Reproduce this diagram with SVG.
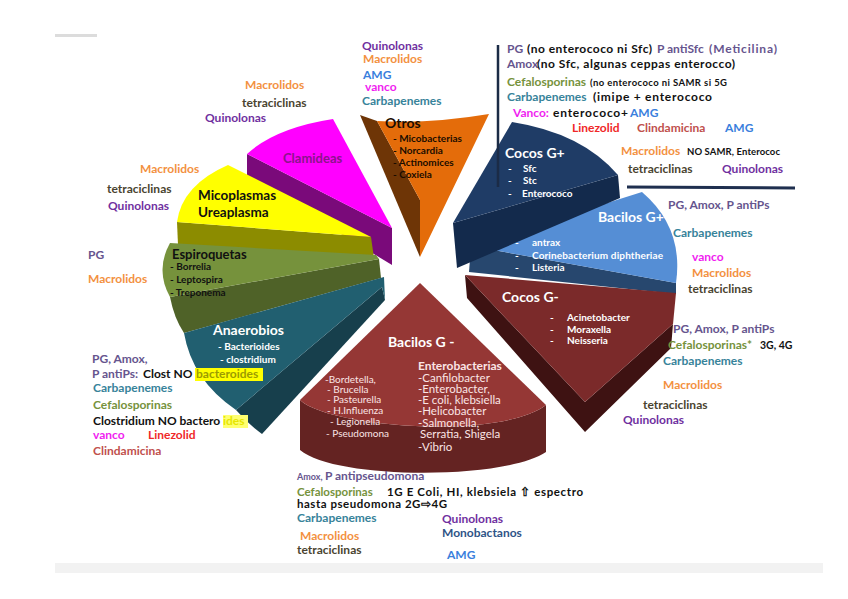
<svg xmlns="http://www.w3.org/2000/svg" width="848" height="599" viewBox="0 0 848 599">
<style>
text{font-family:Lato,"Liberation Sans",sans-serif;font-weight:bold;font-size:12px}
.q{fill:#7030a0}.m{fill:#f3913f}.a{fill:#3a7fdd}.v{fill:#f01ef0}.c{fill:#37839a}.tc{fill:#4a4430}.pg{fill:#66558e}.cf{fill:#76923c}.lz{fill:#f02828}.cl{fill:#c0504d}.k{fill:#111}.mb{fill:#2f5487}
.w{fill:#fff}.h{font-size:14px}.s{font-size:10px}.d{fill:#1a0c00}
.bg{fill:#fbe5e5;font-weight:normal;font-size:11.5px}.bl{fill:#fbe5e5;font-weight:normal;font-size:10px}
</style>
<rect width="848" height="599" fill="#fff"/>
<rect x="55" y="34" width="42" height="3" fill="#dcdcdc"/>
<rect x="55" y="563" width="768" height="10" fill="#f2f2f2"/>

<g id="otros">
<path d="M360,115 L377,121 L420,200 L420,257 Z" fill="#6e3506"/>
<path d="M377,121 Q430,124 489,114 L420,257 L420,200 Z" fill="#e46c0a"/>
<text x="385" y="128" class="d h">Otros</text>
<text x="393" y="142" class="d s">- Micobacterias</text>
<text x="393" y="154" class="d s">- Norcardia</text>
<text x="393" y="166" class="d s">- Actinomices</text>
<text x="393" y="178" class="d s">- Coxiela</text>
</g>
<g id="otros-drugs">
<text x="362" y="50" class="q">Quinolonas</text>
<text x="363" y="63" class="m">Macrolidos</text>
<text x="363" y="79" class="a">AMG</text>
<text x="365" y="91" class="v">vanco</text>
<text x="362" y="105" class="c">Carbapenemes</text>
</g>

<g id="clamideas">
<path d="M247,154 L392,228 L392,265 L247,177 Z" fill="#7a0a7a"/>
<path d="M247,154 Q275,128 333,119 L392,228 Z" fill="#ff00ff"/>
<text x="283" y="163" style="font-size:13px;fill:#8b148b">Clamideas</text>
</g>
<g id="clamideas-drugs">
<text x="245" y="89" class="m">Macrolidos</text>
<text x="242" y="107" class="tc">tetraciclinas</text>
<text x="205" y="122" class="q">Quinolonas</text>
</g>

<g id="micoplasmas">
<path d="M177,222 L371,237 L374,258 L178,245 Z" fill="#8c8c00"/>
<path d="M228,165 Q182,185 177,222 L371,237 Z" fill="#ffff00"/>
<text x="198" y="200" class="k" style="font-size:13.5px">Micoplasmas</text>
<text x="198" y="217" class="k" style="font-size:13.5px">Ureaplasma</text>
</g>
<g id="micoplasmas-drugs">
<text x="140" y="173" class="m">Macrolidos</text>
<text x="107" y="193" class="tc">tetraciclinas</text>
<text x="108" y="210" class="q">Quinolonas</text>
</g>

<g id="espiroquetas">
<path d="M170,297 L379,259 L381,278 L184,333 Q174,318 170,297 Z" fill="#4f6228"/>
<path d="M170,243 L376,255 L379,259 L170,297 Q155,270 170,243 Z" fill="#76923c"/>
<text x="172" y="259" class="k" style="font-size:13px">Espiroquetas</text>
<text x="170" y="270" class="k s">- Borrelia</text>
<text x="170" y="283" class="k s">- Leptospira</text>
<text x="170" y="296" class="k s">- Treponema</text>
</g>
<g id="espiroquetas-drugs">
<text x="88" y="259" class="pg">PG</text>
<text x="88" y="283" class="m">Macrolidos</text>
</g>

<g id="anaerobios">
<path d="M382,287 L385,300 L262,434 Q248,424 236,410 Z" fill="#173f4c"/>
<path d="M184,333 L384,277 L385,300 L382,287 L236,410 Q192,380 184,333 Z" fill="#215f70"/>
<text x="213" y="335" class="w h">Anaerobios</text>
<text x="218" y="350" class="w s">- Bacterioides</text>
<text x="220" y="363" class="w s">- clostridium</text>
</g>
<g id="anaerobios-drugs">
<text x="92" y="363" class="pg">PG, Amox,</text>
<text x="92" y="378" class="pg">P antiPs:</text>
<text x="143" y="378" class="k">Clost NO</text>
<rect x="195" y="368" width="68" height="13" fill="#ffff00"/>
<text x="196" y="378" style="fill:#9c9c00">bacteroides</text>
<text x="93" y="392" class="c">Carbapenemes</text>
<text x="93" y="409" class="cf">Cefalosporinas</text>
<text x="93" y="425" class="k">Clostridium NO bactero</text>
<rect x="223" y="415" width="25" height="13" fill="#ffff70"/>
<text x="223" y="425" style="fill:#e6e600">ides</text>
<text x="93" y="439" class="v">vanco</text>
<text x="148" y="439" class="lz">Linezolid</text>
<text x="93" y="455" class="cl">Clindamicina</text>
</g>

<g id="bacilos-gneg">
<path d="M300,400 C330,428 500,440 546,405 L546,452 C505,480 335,480 300,450 Z" fill="#642322"/>
<path d="M420,283 L300,400 C330,428 500,440 546,405 Z" fill="#953735"/>
<text x="388" y="347" class="w h">Bacilos G -</text>
<text x="418" y="370" style="fill:#fbe5e5;font-size:12px">Enterobacterias</text>
<text x="418" y="382" class="bg">-Canfilobacter</text>
<text x="418" y="393" class="bg">-Enterobacter,</text>
<text x="418" y="404" class="bg">-E coli, klebsiella</text>
<text x="418" y="415" class="bg">-Helicobacter</text>
<text x="418" y="427" class="bg">-Salmonella,</text>
<text x="420" y="438" class="bg">Serratia, Shigela</text>
<text x="418" y="451" class="bg">-Vibrio</text>
<text x="325" y="383" class="bl">-Bordetella,</text>
<text x="327" y="393" class="bl">- Brucella</text>
<text x="327" y="403" class="bl">- Pasteurella</text>
<text x="327" y="414" class="bl">- H.Influenza</text>
<text x="330" y="425" class="bl">- Legionella</text>
<text x="326" y="437" class="bl">- Pseudomona</text>
</g>
<g id="bacilos-gneg-drugs">
<text x="297" y="480" class="pg" style="font-size:9px">Amox,</text>
<text x="325" y="480" class="pg">P antipseudomona</text>
<text x="297" y="496" class="cf" style="font-size:11.5px">Cefalosporinas</text>
<text x="387" y="496" class="k" style="font-size:11.5px" textLength="196">1G E Coli, HI, klebsiela ⇧ espectro</text>
<text x="297" y="508" class="k" style="font-size:11.5px" textLength="150">hasta pseudomona 2G⇨4G</text>
<text x="297" y="522" class="c">Carbapenemes</text>
<text x="442" y="523" class="q">Quinolonas</text>
<text x="300" y="540" class="m">Macrolidos</text>
<text x="442" y="537" class="mb">Monobactanos</text>
<text x="297" y="554" class="tc">tetraciclinas</text>
<text x="447" y="559" class="a">AMG</text>
</g>

<g id="bacilos-gpos">
<path d="M471,246 L676,283 L676,294 L469,272 Z" fill="#27476e"/>
<path d="M471,246 L642,192 Q684,228 676,283 Z" fill="#558ed5"/>
<text x="598" y="222" class="w h">Bacilos G+</text>
<text x="515" y="246" class="w s">-</text><text x="532" y="246" class="w s">antrax</text>
<text x="515" y="259" class="w s">-</text><text x="532" y="259" class="w s" textLength="131">Corinebacterium diphtheriae</text>
<text x="515" y="271" class="w s">-</text><text x="532" y="271" class="w s">Listeria</text>
</g>
<g id="bacilos-gpos-drugs">
<text x="668" y="209" class="pg">PG, Amox, P antiPs</text>
<text x="673" y="237" class="c">Carbapenemes</text>
<text x="692" y="261" class="v">vanco</text>
<text x="692" y="277" class="m">Macrolidos</text>
<text x="688" y="293" class="tc">tetraciclinas</text>
</g>

<g id="cocos-gneg">
<path d="M465,275 L585,402 L673,324 L671,348 L585,432 L467,298 Z" fill="#3e1212"/>
<path d="M465,275 L676,293 L673,324 L585,402 Z" fill="#7b2a2a"/>
<text x="502" y="302" class="w h">Cocos G-</text>
<text x="550" y="321" class="w s">-</text><text x="567" y="321" class="w s">Acinetobacter</text>
<text x="550" y="333" class="w s">-</text><text x="567" y="333" class="w s">Moraxella</text>
<text x="550" y="344" class="w s">-</text><text x="567" y="344" class="w s">Neisseria</text>
</g>
<g id="cocos-gneg-drugs">
<text x="673" y="333" class="pg">PG, Amox, P antiPs</text>
<text x="668" y="349" class="cf">Cefalosporinas*</text>
<text x="760" y="349" class="k" style="font-size:10.5px">3G, 4G</text>
<text x="663" y="365" class="c">Carbapenemes</text>
<text x="663" y="389" class="m">Macrolidos</text>
<text x="643" y="409" class="tc">tetraciclinas</text>
<text x="623" y="424" class="q">Quinolonas</text>
</g>

<g id="cocos-gpos">
<path d="M453,223 L618,175 L620,198 L457,268 Z" fill="#132a4c"/>
<path d="M512,122 Q582,133 618,175 L453,223 Z" fill="#1f3c66"/>
<text x="505" y="158" class="w h">Cocos G+</text>
<text x="508" y="172" class="w s">-</text><text x="523" y="172" class="w s">Sfc</text>
<text x="508" y="184" class="w s">-</text><text x="523" y="184" class="w s">Stc</text>
<text x="508" y="197" class="w s">-</text><text x="522" y="197" class="w s">Enterococo</text>
</g>
<g id="cocos-gpos-drugs">
<text x="507" y="53" class="pg">PG</text>
<text x="527" y="53" class="k" textLength="125">(no enterococo ni Sfc)</text>
<text x="657" y="53" class="pg">P antiSfc</text>
<text x="709" y="53" class="pg" textLength="68">(Meticilina)</text>
<text x="507" y="68" class="pg">Amox</text>
<text x="537" y="68" class="k" textLength="198">(no Sfc, algunas ceppas enterocco)</text>
<text x="507" y="86" class="cf">Cefalosporinas</text>
<text x="590" y="86" class="k" style="font-size:9.5px" textLength="137">(no enterococo ni SAMR si 5G</text>
<text x="507" y="101" class="c">Carbapenemes</text>
<text x="593" y="101" class="k" textLength="119">(imipe  + enterococo</text>
<text x="513" y="117" class="v">Vanco:</text>
<text x="553" y="117" class="k" textLength="75">enterococo+</text>
<text x="630" y="117" class="a">AMG</text>
<text x="572" y="132" class="lz">Linezolid</text>
<text x="637" y="132" class="cl">Clindamicina</text>
<text x="725" y="132" class="a">AMG</text>
<text x="621" y="155" class="m">Macrolidos</text>
<text x="687" y="155" class="k" style="font-size:9.5px" textLength="93">NO SAMR, Enterococ</text>
<text x="628" y="173" class="tc">tetraciclinas</text>
<text x="722" y="173" class="q">Quinolonas</text>
</g>

<g id="connectors">
<line x1="498" y1="45" x2="498" y2="187" stroke="#1b2b46" stroke-width="2.5"/>
<line x1="627" y1="187" x2="795" y2="188" stroke="#1f2f4f" stroke-width="3"/>
</g>
</svg>
